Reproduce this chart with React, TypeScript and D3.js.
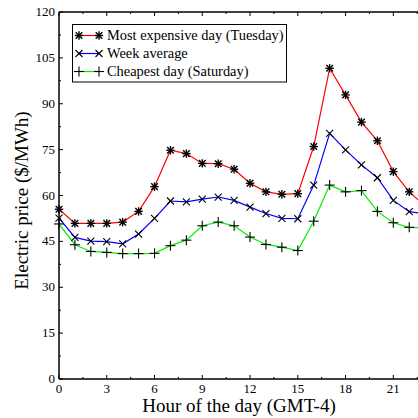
import React from "react";
import * as d3 from "d3";

const hours = d3.range(0, 24);
const tuesday = [55.5, 50.9, 50.9, 50.9, 51.3, 54.8, 62.9, 74.8, 73.7, 70.5, 70.4, 68.6, 64.0, 61.2, 60.4, 60.6, 76.0, 101.6, 92.9, 84.0, 77.9, 67.8, 61.2, 56.5];
const weekAvg = [52.6, 46.3, 45.1, 44.9, 44.2, 47.4, 52.5, 58.2, 57.9, 58.8, 59.5, 58.4, 56.2, 54.1, 52.5, 52.4, 63.4, 80.3, 74.9, 70.0, 65.8, 58.4, 54.7, 54.0];
const saturday = [50.7, 43.9, 41.7, 41.4, 41.0, 41.0, 41.1, 43.6, 45.4, 50.1, 51.3, 50.1, 46.4, 44.0, 43.1, 42.0, 51.6, 63.4, 61.2, 61.6, 54.8, 51.1, 49.6, 49.4];
const seriesNames = ["Most expensive day (Tuesday)", "Week average", "Cheapest day (Saturday)"];
const seriesColors = ["#ff0000", "#0000ff", "#00ee00"];
const xTicks = [0, 3, 6, 9, 12, 15, 18, 21];
const yTicks = [0, 15, 30, 45, 60, 75, 90, 105, 120];

const font = "Liberation Serif, Times New Roman, serif";

function Marker({ type, x, y }: { type: number; x: number; y: number }) {
  const s = 4.2;
  if (type === 0) {
    const d = 3.3;
    return (
      <g stroke="#000" strokeWidth={1.4}>
        <line x1={x - s} y1={y} x2={x + s} y2={y} />
        <line x1={x} y1={y - s} x2={x} y2={y + s} />
        <line x1={x - d} y1={y - d} x2={x + d} y2={y + d} />
        <line x1={x - d} y1={y + d} x2={x + d} y2={y - d} />
      </g>
    );
  }
  if (type === 1) {
    const d = 3.5;
    return (
      <g stroke="#000" strokeWidth={1.1}>
        <line x1={x - d} y1={y - d} x2={x + d} y2={y + d} />
        <line x1={x - d} y1={y + d} x2={x + d} y2={y - d} />
      </g>
    );
  }
  const p = 5;
  return (
    <g stroke="#000" strokeWidth={1.1}>
      <line x1={x - p} y1={y} x2={x + p} y2={y} />
      <line x1={x} y1={y - p} x2={x} y2={y + p} />
    </g>
  );
}

export default function App() {
  const W = 418, H = 418;
  const left = 59, top = 12, bottom = 379;
  const x = d3.scaleLinear().domain([0, 24]).range([left, left + 24 * 15.92]);
  const y = d3.scaleLinear().domain([0, 120]).range([bottom, top]);
  const line = d3.line<number>().x((_, i) => x(hours[i])).y((d) => y(d));
  const data = [tuesday, weekAvg, saturday];
  const right = x(24);
  const xMinor = d3.range(1.5, 24, 3);
  const yMinor = d3.range(7.5, 120, 15);

  return (
    <svg width={W} height={H} style={{ position: "absolute", left: 0, top: 0, background: "#fff" }} fontFamily={font}>
      <defs>
        <clipPath id="clip">
          <rect x={left} y={top} width={right - left} height={bottom - top} />
        </clipPath>
      </defs>
      <g clipPath="url(#clip)">
        {data.map((d, k) => (
          <path key={k} d={line(d) || ""} fill="none" stroke={seriesColors[k]} strokeWidth={1.2} />
        ))}
      </g>
      {data.map((d, k) => (
        <g key={k}>
          {d.map((v, i) => (
            <Marker key={i} type={k} x={x(hours[i])} y={y(v)} />
          ))}
        </g>
      ))}
      <g stroke="#000" strokeWidth={1.5} fill="none">
        <line x1={left} y1={top} x2={right} y2={top} />
        <line x1={left} y1={bottom} x2={right} y2={bottom} />
        <line x1={left} y1={top} x2={left} y2={bottom} />
        <line x1={right} y1={top} x2={right} y2={bottom} />
      </g>
      <g stroke="#000" strokeWidth={1}>
        {[...xTicks, 24].map((t) => (
          <g key={"xt" + t}>
            <line x1={x(t)} y1={bottom} x2={x(t)} y2={bottom - 4} />
            <line x1={x(t)} y1={top} x2={x(t)} y2={top + 4} />
          </g>
        ))}
        {xMinor.map((t) => (
          <g key={"xm" + t}>
            <line x1={x(t)} y1={bottom} x2={x(t)} y2={bottom - 2} />
            <line x1={x(t)} y1={top} x2={x(t)} y2={top + 2} />
          </g>
        ))}
        {yTicks.map((t) => (
          <line key={"yt" + t} x1={left} y1={y(t)} x2={left + 4} y2={y(t)} />
        ))}
        {yMinor.map((t) => (
          <line key={"ym" + t} x1={left} y1={y(t)} x2={left + 2} y2={y(t)} />
        ))}
      </g>
      <g fontSize={13} fill="#000">
        {xTicks.map((t) => (
          <text key={"xl" + t} x={x(t)} y={bottom + 14} textAnchor="middle">{t}</text>
        ))}
        {yTicks.map((t) => (
          <text key={"yl" + t} x={left - 4} y={y(t) + 4} textAnchor="end">{t}</text>
        ))}
      </g>
      <text x={239} y={412} fontSize={19} textAnchor="middle" fill="#000">Hour of the day (GMT-4)</text>
      <text transform={`translate(28,${(top + bottom) / 2 + 5}) rotate(-90)`} fontSize={19} textAnchor="middle" fill="#000">Electric price ($/MWh)</text>
      <rect x={72.5} y={24.5} width={214} height={57.5} fill="#fff" stroke="#000" strokeWidth={1} />
      {seriesNames.map((n, k) => {
        const ly = 35.5 + k * 18;
        return (
          <g key={"lg" + k}>
            <line x1={79} y1={ly} x2={99} y2={ly} stroke={seriesColors[k]} strokeWidth={1.2} />
            <Marker type={k} x={79} y={ly} />
            <Marker type={k} x={99} y={ly} />
            <text x={107} y={ly + 4.5} fontSize={14.4} fill="#000">{n}</text>
          </g>
        );
      })}
    </svg>
  );
}
